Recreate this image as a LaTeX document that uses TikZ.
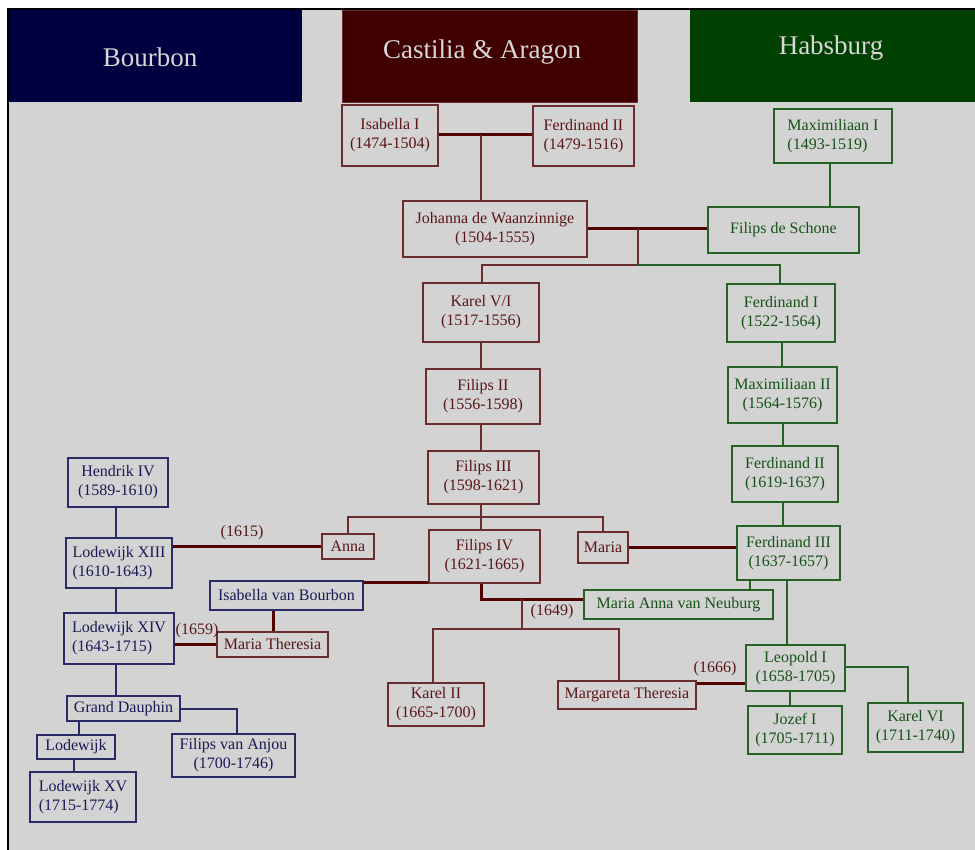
\documentclass[tikz,border=0pt]{standalone}
\usepackage{fontspec}
\setmainfont{Liberation Serif}
\definecolor{bgc}{RGB}{211,211,211}
\definecolor{hblue}{RGB}{0,0,64}
\definecolor{hred}{RGB}{64,0,0}
\definecolor{hgreen}{RGB}{0,64,0}
\definecolor{htext}{RGB}{215,215,215}
\definecolor{rtext}{RGB}{90,22,22}
\definecolor{rline}{RGB}{105,45,45}
\definecolor{gtext}{RGB}{22,82,22}
\definecolor{gline}{RGB}{38,98,38}
\definecolor{btext}{RGB}{25,25,85}
\definecolor{bline}{RGB}{42,42,100}
\definecolor{mline}{RGB}{82,0,0}
\tikzset{
  basebox/.style={draw, line width=1.2pt, inner sep=0pt, align=center, font=\fontsize{16}{19}\selectfont},
  rbox/.style={basebox, draw=rline, text=rtext},
  gbox/.style={basebox, draw=gline, text=gtext},
  bbox/.style={basebox, draw=bline, text=btext},
  rl/.style={draw=rline, line width=1.2pt},
  gl/.style={draw=gline, line width=1.2pt},
  bl/.style={draw=bline, line width=1.2pt},
  ml/.style={draw=mline, line width=3pt},
  yr/.style={text=rtext, font=\fontsize{16}{19}\selectfont, inner sep=0pt},
  header/.style={text=htext, font=\fontsize{27}{32}\selectfont, inner sep=0pt}
}
\begin{document}
\begin{tikzpicture}[x=1pt,y=-1pt]
\useasboundingbox (0,0) rectangle (975,850);
\fill[white] (0,0) rectangle (975,850);
\fill[bgc] (8,9) rectangle (975,850);
\draw[black, line width=1.2pt] (975,9) -- (8,9) -- (8,850);
% headers
\fill[hblue] (9,10) rectangle (302,102);
\filldraw[fill=hred, draw=rline, line width=0.8pt] (342,10) rectangle (637,102);
\fill[hgreen] (690,10) rectangle (975,102);
\node[header] (hb) at (150,57) {Bourbon};
\node[header] (hc) at (482,52) {Castilia \& Aragon};
\node[header] (hh) at (831,48) {Habsburg};
% red boxes
\node[rbox, minimum width=96pt, minimum height=61pt] (isab) at (390,135.5) {Isabella I\\(1474-1504)};
\node[rbox, minimum width=101pt, minimum height=60pt] (ferd2c) at (583.5,136) {Ferdinand II\\(1479-1516)};
\node[rbox, minimum width=184pt, minimum height=56pt] (joh) at (495,229) {Johanna de Waanzinnige\\(1504-1555)};
\node[rbox, minimum width=116pt, minimum height=59pt] (karel5) at (481,312.5) {Karel V/I\\(1517-1556)};
\node[rbox, minimum width=114pt, minimum height=55pt] (filips2) at (483,396.5) {Filips II\\(1556-1598)};
\node[rbox, minimum width=111pt, minimum height=53pt] (filips3) at (483.5,477.5) {Filips III\\(1598-1621)};
\node[rbox, minimum width=111pt, minimum height=53pt] (filips4) at (484.5,556.5) {Filips IV\\(1621-1665)};
\node[rbox, minimum width=52pt, minimum height=25pt] (anna) at (348,546.5) {Anna};
\node[rbox, minimum width=50pt, minimum height=31pt] (maria) at (603,547.5) {Maria};
\node[rbox, minimum width=111pt, minimum height=25pt] (mtheresia) at (272.5,644.5) {Maria Theresia};
\node[rbox, minimum width=96pt, minimum height=43pt] (karel2) at (436,704.5) {Karel II\\(1665-1700)};
\node[rbox, minimum width=138pt, minimum height=28pt] (margareta) at (627,695) {Margareta Theresia};
% green boxes
\node[gbox, minimum width=118pt, minimum height=54pt, align=left] (max1) at (833,136) {Maximiliaan I\\(1493-1519)};
\node[gbox, minimum width=151pt, minimum height=46pt] (fdschone) at (783.5,230) {Filips de Schone};
\node[gbox, minimum width=108pt, minimum height=58pt] (ferd1) at (781,313) {Ferdinand I\\(1522-1564)};
\node[gbox, minimum width=109pt, minimum height=56pt] (max2) at (782.5,395) {Maximiliaan II\\(1564-1576)};
\node[gbox, minimum width=106pt, minimum height=56pt] (ferd2h) at (785,474) {Ferdinand II\\(1619-1637)};
\node[gbox, minimum width=103pt, minimum height=54pt] (ferd3) at (788.5,553) {Ferdinand III\\(1637-1657)};
\node[gbox, minimum width=189pt, minimum height=29pt] (manneub) at (678.5,604.5) {Maria Anna van Neuburg};
\node[gbox, minimum width=99pt, minimum height=46pt] (leopold) at (795.5,668) {Leopold I\\(1658-1705)};
\node[gbox, minimum width=94pt, minimum height=48pt] (jozef) at (795,730) {Jozef I\\(1705-1711)};
\node[gbox, minimum width=95pt, minimum height=49pt] (karel6) at (915.5,727.5) {Karel VI\\(1711-1740)};
% blue boxes
\node[bbox, minimum width=100pt, minimum height=49pt] (hendrik) at (118,482.5) {Hendrik IV\\(1589-1610)};
\node[bbox, minimum width=106pt, minimum height=50pt, align=left] (lod13) at (119,563) {Lodewijk XIII\\(1610-1643)};
\node[bbox, minimum width=153pt, minimum height=29pt] (isabb) at (286.5,595.5) {Isabella van Bourbon};
\node[bbox, minimum width=110pt, minimum height=51pt, align=left] (lod14) at (119,638.5) {Lodewijk XIV\\(1643-1715)};
\node[bbox, minimum width=113pt, minimum height=25pt] (gdauphin) at (123.5,708.5) {Grand Dauphin};
\node[bbox, minimum width=78pt, minimum height=24pt] (lodewijk) at (76,747) {Lodewijk};
\node[bbox, minimum width=106pt, minimum height=50pt, align=left] (lod15) at (83,797) {Lodewijk XV\\(1715-1774)};
\node[bbox, minimum width=123pt, minimum height=43pt] (anjou) at (233.5,755.5) {Filips van Anjou\\(1700-1746)};
% junction coordinates
\coordinate (m1) at (481,135);
\coordinate (m2) at (638,229);
\coordinate (j2) at (638,265);
\coordinate (j3) at (481,517);
\coordinate (j4) at (481,599);
\coordinate (m4) at (522,599);
\coordinate (j5) at (522,629);
% Castilia & Aragon
\draw[ml] (isab.east |- m1) -- (ferd2c.west |- m1);
\draw[rl] (m1) -- (m1 |- joh.north);
\draw[ml] (joh.east |- m2) -- (fdschone.west |- m2);
\draw[gl] (max1.south -| 830,0) -- (fdschone.north -| 830,0);
\draw[rl] (m2) -- (j2) -- (482,265) -- (karel5.north -| 482,0);
\draw[gl] (j2) -- (780,265) -- (ferd1.north -| 780,0);
\draw[rl] (karel5.south -| 481,0) -- (filips2.north -| 481,0);
\draw[rl] (filips2.south -| 481,0) -- (filips3.north -| 481,0);
\draw[rl] (filips3.south -| j3) -- (j3) -- (filips4.north -| j3);
\draw[rl] (anna.north) -- (anna.north |- j3) -- (maria.north |- j3) -- (maria.north);
% Habsburg line
\draw[gl] (ferd1.south -| 782,0) -- (max2.north -| 782,0);
\draw[gl] (max2.south -| 783,0) -- (ferd2h.north -| 783,0);
\draw[gl] (ferd2h.south -| 783,0) -- (ferd3.north -| 783,0);
\draw[ml] (maria.east |- 0,547) -- (ferd3.west |- 0,547);
\draw[gl] (ferd3.south -| 750,0) -- (manneub.north -| 750,0);
\draw[gl] (ferd3.south -| 787,0) -- (leopold.north -| 787,0);
\draw[gl] (leopold.south -| 790,0) -- (jozef.north -| 790,0);
\draw[gl] (leopold.east |- 0,667) -- (908,667) -- (karel6.north -| 908,0);
% Filips IV marriages
\draw[ml] (isabb.east |- 0,582) -- (filips4.west |- 0,582);
\draw[ml] (isabb.south -| 273,0) -- (mtheresia.north -| 273,0);
\draw[ml] (filips4.south -| j4) -- (j4) -- (manneub.west |- j4);
\draw[rl] (m4) -- (j5) -- (433,629) -- (karel2.north -| 433,0);
\draw[rl] (j5) -- (619,629) -- (margareta.north -| 619,0);
\node[yr] (y1649) at (552,612) {(1649)};
\draw[ml] (margareta.east |- 0,683) -- (leopold.west |- 0,683);
\node[yr] (y1666) at (715,669) {(1666)};
% Bourbon
\draw[bl] (hendrik.south -| 116,0) -- (lod13.north -| 116,0);
\draw[bl] (lod13.south -| 116,0) -- (lod14.north -| 116,0);
\draw[bl] (lod14.south -| 116,0) -- (gdauphin.north -| 116,0);
\draw[ml] (lod13.east |- 0,546) -- (anna.west |- 0,546);
\node[yr] (y1615) at (242,533) {(1615)};
\draw[ml] (lod14.east |- 0,644) -- (mtheresia.west |- 0,644);
\node[yr] (y1659) at (197,631) {(1659)};
\draw[bl] (gdauphin.south -| 79,0) -- (lodewijk.north -| 79,0);
\draw[bl] (lodewijk.south -| 74,0) -- (lod15.north -| 74,0);
\draw[bl] (gdauphin.east |- 0,709) -- (237,709) -- (anjou.north -| 237,0);
\end{tikzpicture}
\end{document}
